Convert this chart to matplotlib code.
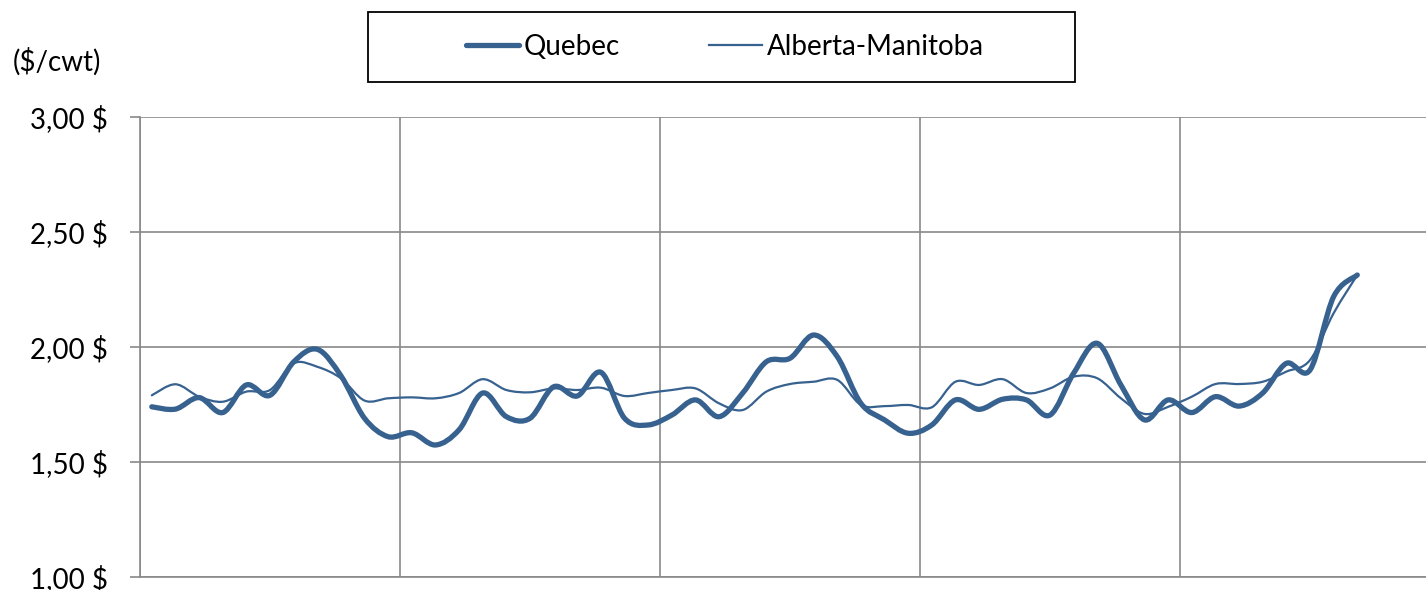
import matplotlib
matplotlib.use("Agg")
import matplotlib.pyplot as plt
from matplotlib.path import Path
from matplotlib.patches import PathPatch, Rectangle
from matplotlib.lines import Line2D
from matplotlib.ticker import FuncFormatter, MultipleLocator

# =====================================================
# DATA ($/cwt)
# =====================================================
quebec = [1.74, 1.73, 1.78, 1.715, 1.835, 1.79, 1.935, 1.99, 1.875, 1.69, 1.61,
          1.627, 1.574, 1.64, 1.80, 1.697, 1.69, 1.827, 1.787, 1.89, 1.69, 1.661,
          1.704, 1.77, 1.697, 1.80, 1.936, 1.951, 2.052, 1.958, 1.755, 1.683, 1.625,
          1.661, 1.77, 1.729, 1.773, 1.77, 1.704, 1.886, 2.016, 1.835, 1.683, 1.77,
          1.715, 1.784, 1.743, 1.80, 1.929, 1.90, 2.219, 2.313]

alberta = [1.79, 1.838, 1.784, 1.762, 1.806, 1.813, 1.929, 1.914, 1.864, 1.767, 1.777,
           1.781, 1.777, 1.80, 1.86, 1.813, 1.803, 1.82, 1.813, 1.823, 1.787, 1.80,
           1.813, 1.82, 1.755, 1.726, 1.806, 1.839, 1.849, 1.857, 1.748, 1.743, 1.748,
           1.738, 1.849, 1.835, 1.86, 1.80, 1.82, 1.871, 1.864, 1.777, 1.709, 1.74,
           1.784, 1.839, 1.839, 1.849, 1.893, 1.943, 2.147, 2.313]

series_names = ["Quebec", "Alberta-Manitoba"]
n_categories = 55
group_size = 11

LINE_COLOR = "#37618f"
GRID_COLOR = "#898989"
FONT_SIZE = 20

plt.rcParams["font.family"] = ["Lato", "DejaVu Sans"]


def smooth_path(xs, ys):
    # Excel-style smoothed line: cubic Bezier through every point
    pts = list(zip(xs, ys))
    n = len(pts)
    verts = [pts[0]]
    codes = [Path.MOVETO]
    for i in range(n - 1):
        p0 = pts[i - 1] if i > 0 else pts[i]
        p1 = pts[i]
        p2 = pts[i + 1]
        p3 = pts[i + 2] if i + 2 < n else pts[i + 1]
        c1 = (p1[0] + (p2[0] - p0[0]) / 6, p1[1] + (p2[1] - p0[1]) / 6)
        c2 = (p2[0] - (p3[0] - p1[0]) / 6, p2[1] - (p3[1] - p1[1]) / 6)
        verts += [c1, c2, p2]
        codes += [Path.CURVE4] * 3
    return Path(verts, codes)


fig = plt.figure(figsize=(14.26, 5.90), dpi=100)
ax = fig.add_axes([140 / 1426, 1 - 577 / 590, 1300 / 1426, 460 / 590])

xs = [i + 0.5 for i in range(len(quebec))]

ax.add_patch(PathPatch(smooth_path(xs, alberta), fill=False, edgecolor=LINE_COLOR,
                       linewidth=1.6, capstyle="round", joinstyle="round", zorder=3))
ax.add_patch(PathPatch(smooth_path(xs, quebec), fill=False, edgecolor=LINE_COLOR,
                       linewidth=3.8, capstyle="round", joinstyle="round", zorder=4))

ax.set_xlim(0, n_categories)
ax.set_ylim(1.0, 3.0)
ax.yaxis.set_major_locator(MultipleLocator(0.5))
ax.yaxis.set_major_formatter(FuncFormatter(lambda v, p: f"{v:.2f}".replace(".", ",") + " \\$"))
ax.set_xticks(range(0, n_categories + 1, group_size))
ax.set_xticklabels([])

ax.grid(True, color=GRID_COLOR, linewidth=1.2)
ax.set_axisbelow(True)
for side in ["top", "right"]:
    ax.spines[side].set_visible(False)
for side in ["left", "bottom"]:
    ax.spines[side].set_color(GRID_COLOR)
    ax.spines[side].set_linewidth(1.2)
ax.tick_params(axis="y", length=7, width=1.2, color=GRID_COLOR, pad=16, labelsize=FONT_SIZE)
ax.tick_params(axis="x", length=0)

fig.text(13 / 1426, 1 - 62 / 590, "(\\$/cwt)", fontsize=FONT_SIZE, va="center", ha="left")

# legend box
fig.patches.append(Rectangle((368 / 1426, 1 - 82 / 590), 707 / 1426, 70 / 590,
                             transform=fig.transFigure, fill=False,
                             edgecolor="black", linewidth=1.3))
handles = [Line2D([], [], color=LINE_COLOR, linewidth=3.8, solid_capstyle="round"),
           Line2D([], [], color=LINE_COLOR, linewidth=1.6)]
fig.legend(handles, series_names, loc="center", bbox_to_anchor=(725 / 1426, 1 - 47 / 590),
           ncol=2, frameon=False, fontsize=FONT_SIZE, handlelength=1.9,
           handletextpad=0.18, columnspacing=3.2)

fig.savefig("out.png", dpi=100)
